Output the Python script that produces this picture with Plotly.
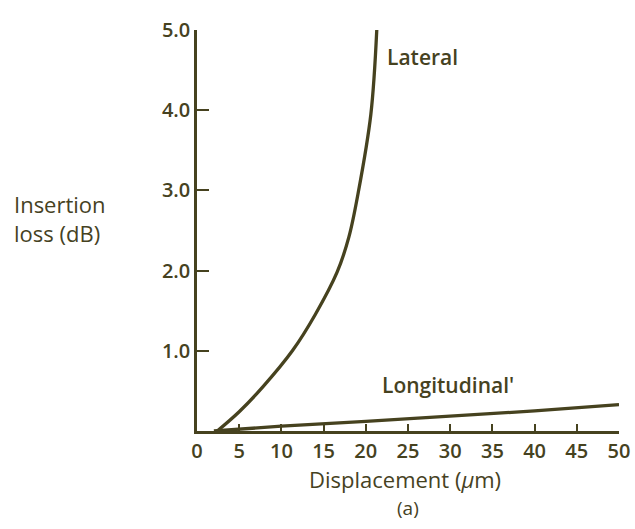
import plotly.graph_objects as go

# Data
lateral_x = [2.4, 5, 7.8, 11.3, 14, 16.6, 18, 19.1, 20.6, 21.3]
lateral_y = [0.0, 0.24, 0.55, 1.0, 1.45, 1.98, 2.42, 2.97, 3.95, 5.0]

longitudinal_x = [2, 10, 20, 30, 40, 50]
longitudinal_y = [0.0, 0.06, 0.12, 0.18, 0.25, 0.33]

x_ticks = [0, 5, 10, 15, 20, 25, 30, 35, 40, 45, 50]
y_ticks = [1, 2, 3, 4, 5]
y_ticktext = ["1.0", "2.0", "3.0", "4.0", "5.0"]

ink = "#46421f"
font_family = "Open Sans, Lato, sans-serif"

fig = go.Figure()
fig.add_trace(go.Scatter(x=lateral_x, y=lateral_y, mode="lines",
                         line=dict(color=ink, width=3.3, shape="spline", smoothing=1.0),
                         cliponaxis=False, showlegend=False))
fig.add_trace(go.Scatter(x=longitudinal_x, y=longitudinal_y, mode="lines",
                         line=dict(color=ink, width=3.3),
                         cliponaxis=False, showlegend=False))

fig.update_layout(
    width=635, height=529,
    margin=dict(l=197, r=16, t=30, b=98),
    paper_bgcolor="white", plot_bgcolor="white",
    font=dict(family=font_family, color=ink),
    xaxis=dict(range=[0, 50], tickvals=x_ticks, ticks="inside", ticklen=7,
               tickwidth=2, tickcolor=ink, showline=True, linecolor=ink, linewidth=3,
               showgrid=False, zeroline=False, automargin=False,
               ticklabeloverflow="allow",
               tickfont=dict(size=20, family=font_family, color=ink, weight=600)),
    yaxis=dict(range=[0, 5], tickvals=y_ticks, ticktext=y_ticktext, ticks="inside",
               ticklen=12, tickwidth=2, tickcolor=ink, showline=True, linecolor=ink,
               linewidth=2.5, showgrid=False, zeroline=False, automargin=False,
               ticklabeloverflow="allow",
               tickfont=dict(size=20, family=font_family, color=ink, weight=600)),
)

fig.add_annotation(x=22.3, y=4.66, xref="x", yref="y", text="Lateral", showarrow=False,
                   xanchor="left", yanchor="middle",
                   font=dict(size=21, family=font_family, color=ink, weight=600))
fig.add_annotation(x=21.7, y=0.57, xref="x", yref="y", text="Longitudinal'", showarrow=False,
                   xanchor="left", yanchor="middle",
                   font=dict(size=21, family=font_family, color=ink, weight=600))
fig.add_annotation(x=0, y=0.531, xref="paper", yref="paper", xshift=-185,
                   text="Insertion<br>loss (dB)", showarrow=False, align="left",
                   xanchor="left", yanchor="middle",
                   font=dict(size=22, family=font_family, color=ink, weight=500))
fig.add_annotation(x=0.493, y=0, xref="paper", yref="paper", yshift=-48,
                   text="Displacement (<i>μ</i>m)", showarrow=False,
                   xanchor="center", yanchor="middle",
                   font=dict(size=22, family=font_family, color=ink, weight=500))
fig.add_annotation(x=0.5, y=0, xref="paper", yref="paper", yshift=-77,
                   text="(a)", showarrow=False, xanchor="center", yanchor="middle",
                   font=dict(size=19, family=font_family, color=ink, weight=500))

fig.write_html("out.html", config={"displayModeBar": False},
               post_script="document.body.style.margin='0';")
